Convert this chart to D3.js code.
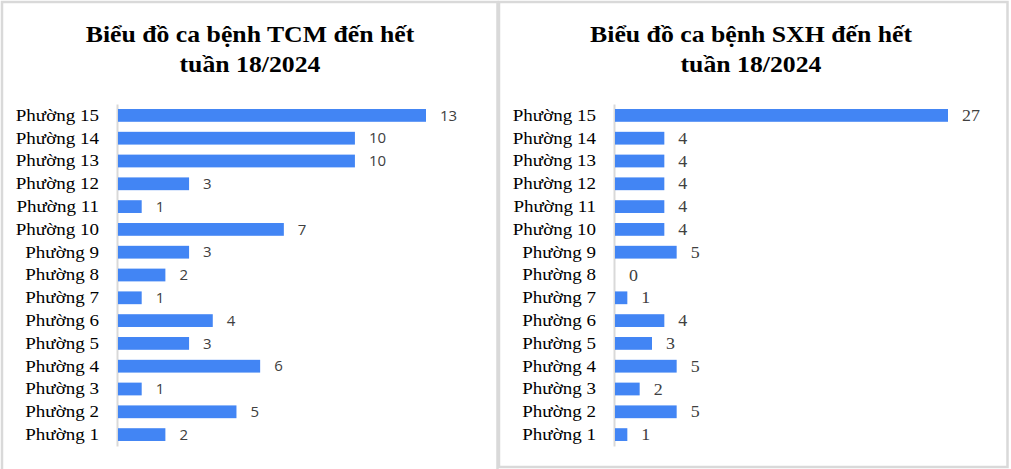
<!DOCTYPE html>
<html>
<head>
<meta charset="utf-8">
<script src="https://cdn.jsdelivr.net/npm/d3@7"></script>
<style>
  html, body { margin: 0; padding: 0; background: #fff; }
  svg { display: block; }
  .serif { font-family: "Liberation Serif", "Times New Roman", serif; }
  .sans { font-family: "Open Sans", "Liberation Sans", sans-serif; }
</style>
</head>
<body>
<svg id="chart" width="1011" height="469"></svg>
<script>
// ---- data ----
const categories = ["Phường 15","Phường 14","Phường 13","Phường 12","Phường 11","Phường 10","Phường 9","Phường 8","Phường 7","Phường 6","Phường 5","Phường 4","Phường 3","Phường 2","Phường 1"];
const tcmValues = [13,10,10,3,1,7,3,2,1,4,3,6,1,5,2];
const sxhValues = [27,4,4,4,4,4,5,0,1,4,3,5,2,5,1];
const tcmTitle = ["Biểu đồ ca bệnh TCM đến hết", "tuần 18/2024"];
const sxhTitle = ["Biểu đồ ca bệnh SXH đến hết", "tuần 18/2024"];

const svg = d3.select("#chart");
const SX = 1.12; // horizontal stretch of the original picture
const barColor = "#4285F4";
const borderColor = "#d9d9d9";

// panel borders
svg.append("rect").attr("x", 2).attr("y", 2).attr("width", 495.5).attr("height", 480)
  .attr("fill", "none").attr("stroke", borderColor).attr("stroke-width", 2.5);
svg.append("rect").attr("x", 499).attr("y", 2).attr("width", 508.5).attr("height", 465)
  .attr("fill", "none").attr("stroke", borderColor).attr("stroke-width", 2.5);

function drawPanel(opts) {
  const g = svg.append("g");
  const y = d3.scaleBand().domain(categories).range([104, 446]).paddingInner(0.44).paddingOuter(0.22);
  const x = d3.scaleLinear().domain([0, opts.max]).range([opts.x0, opts.x1]);

  // title
  opts.title.forEach((t, i) => {
    g.append("text")
      .attr("class", "serif")
      .attr("transform", `translate(${opts.cx},${42 + i * 30}) scale(${SX},1)`)
      .attr("text-anchor", "middle")
      .style("font-weight", "bold")
      .style("font-size", "23px")
      .attr("fill", "#000")
      .text(t);
  });

  // axis
  const axis = d3.axisLeft(y).tickSize(0).tickSizeOuter(0);
  const ag = g.append("g").attr("transform", `translate(${opts.x0 - 1},0)`).call(axis);
  ag.attr("font-family", null).attr("font-size", null);
  ag.select(".domain").attr("stroke", borderColor).attr("stroke-width", 2);
  ag.selectAll(".tick text")
    .attr("class", "serif")
    .attr("x", -18 / SX)
    .attr("transform", `scale(${SX},1)`)
    .style("font-size", "17px")
    .attr("fill", "#000");

  // bars
  g.selectAll("rect.bar").data(opts.values).join("rect")
    .attr("class", "bar")
    .attr("x", x(0))
    .attr("y", (d, i) => y(categories[i]))
    .attr("width", d => x(d) - x(0))
    .attr("height", y.bandwidth())
    .attr("fill", barColor);

  // value labels
  g.selectAll("text.val").data(opts.values).join("text")
    .attr("class", "val " + opts.labelClass)
    .attr("transform", (d, i) => `translate(${x(d) + 14},${y(categories[i]) + y.bandwidth() / 2}) scale(${opts.labelScale},1)`)
    .attr("dy", "0.35em")
    .style("font-size", opts.labelSize + "px")
    .attr("fill", "#404040")
    .text(d => d);
}

drawPanel({
  values: tcmValues, max: 13, x0: 118, x1: 426, cx: 250, title: tcmTitle,
  labelClass: "sans", labelSize: 15, labelScale: 1
});
drawPanel({
  values: sxhValues, max: 27, x0: 615, x1: 948, cx: 751, title: sxhTitle,
  labelClass: "serif", labelSize: 16, labelScale: SX
});
</script>
</body>
</html>
